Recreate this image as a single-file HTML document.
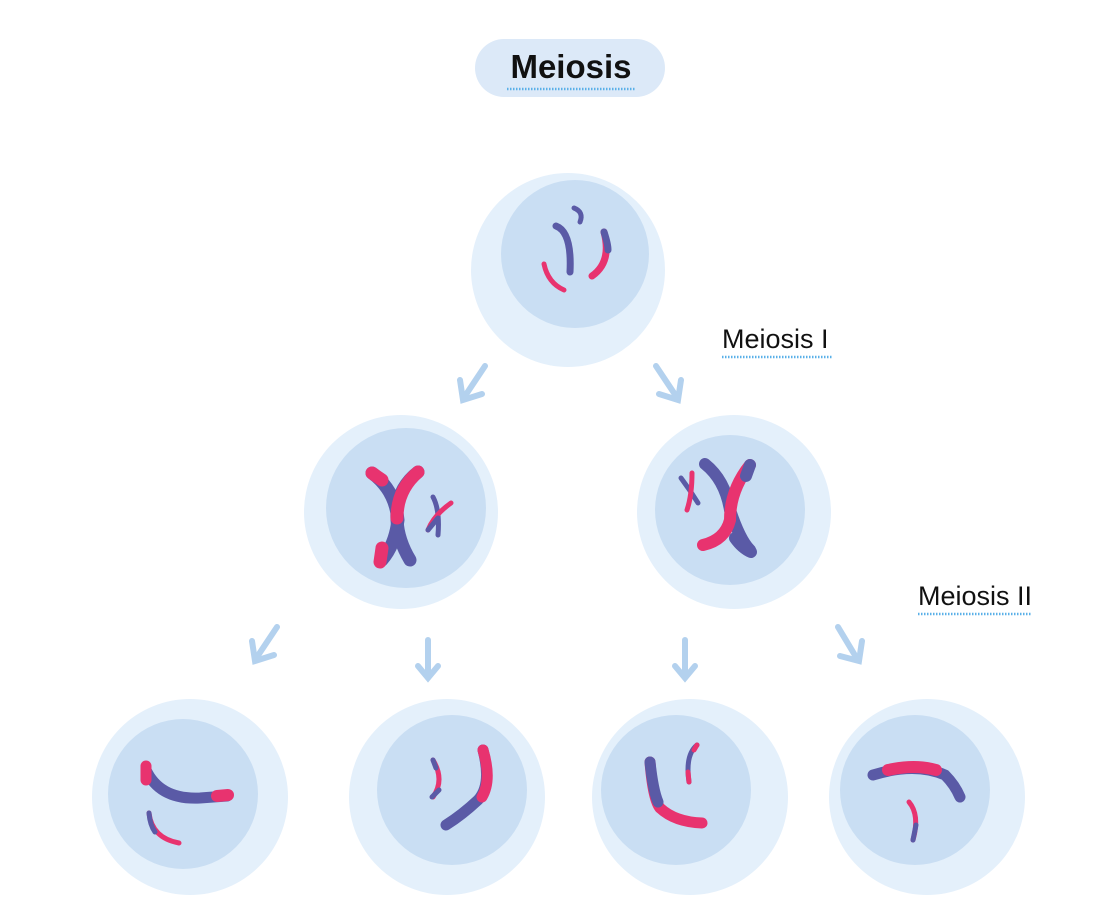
<!DOCTYPE html>
<html><head><style>
html,body{margin:0;padding:0;background:#fff;}
svg{display:block;}
text{font-family:"Liberation Sans",sans-serif;}
</style></head><body>
<svg width="1112" height="915" viewBox="0 0 1112 915">
<g fill="none" stroke-linecap="round">
<!-- title -->
<rect x="475" y="39" width="190" height="58" rx="29" fill="#dce9f8"/>
<text x="571" y="78" font-size="33" font-weight="bold" text-anchor="middle" fill="#111">Meiosis</text>
<line x1="507" y1="89" x2="636" y2="89" stroke="#5ab0e8" stroke-width="2.5" stroke-dasharray="1.5 1.5" stroke-linecap="butt"/>
<text x="722" y="348" font-size="27" fill="#111">Meiosis I</text>
<line x1="722" y1="357" x2="833" y2="357" stroke="#5ab0e8" stroke-width="2.5" stroke-dasharray="1.5 1.5" stroke-linecap="butt"/>
<text x="918" y="605" font-size="27" fill="#111">Meiosis II</text>
<line x1="918" y1="614" x2="1032" y2="614" stroke="#5ab0e8" stroke-width="2.5" stroke-dasharray="1.5 1.5" stroke-linecap="butt"/>

<!-- cells -->
<g stroke="none">
<circle cx="568" cy="270" r="97" fill="#e4f0fb"/><circle cx="575" cy="254" r="74" fill="#c9def3"/>
<circle cx="401" cy="512" r="97" fill="#e4f0fb"/><circle cx="406" cy="508" r="80" fill="#c9def3"/>
<circle cx="734" cy="512" r="97" fill="#e4f0fb"/><circle cx="730" cy="510" r="75" fill="#c9def3"/>
<circle cx="190" cy="797" r="98" fill="#e4f0fb"/><circle cx="183" cy="794" r="75" fill="#c9def3"/>
<circle cx="447" cy="797" r="98" fill="#e4f0fb"/><circle cx="452" cy="790" r="75" fill="#c9def3"/>
<circle cx="690" cy="797" r="98" fill="#e4f0fb"/><circle cx="676" cy="790" r="75" fill="#c9def3"/>
<circle cx="927" cy="797" r="98" fill="#e4f0fb"/><circle cx="915" cy="790" r="75" fill="#c9def3"/>
</g>

<!-- arrows -->
<g stroke="#b3d1ee" stroke-width="6">
<line x1="485" y1="366" x2="465" y2="396"/><polyline points="460,380 463,400 482,394"/>
<line x1="656" y1="366" x2="676" y2="396"/><polyline points="681,380 678,400 659,394"/>
<line x1="277" y1="627" x2="257" y2="657"/><polyline points="252,641 255,661 274,655"/>
<line x1="428" y1="640" x2="428" y2="676"/><polyline points="418,666 428,678 438,666"/>
<line x1="685" y1="640" x2="685" y2="676"/><polyline points="675,666 685,678 695,666"/>
<line x1="838" y1="627" x2="856" y2="657"/><polyline points="840,656 859,661 862,641"/>
</g>

<!-- top cell chromosomes -->
<path d="M556 226 Q572 232 570 272" stroke="#5a5aa6" stroke-width="7"/>
<path d="M574 208 Q584 212 580 222" stroke="#5a5aa6" stroke-width="5"/>
<path d="M544 264 Q548 283 564 290" stroke="#e8336f" stroke-width="5"/>
<path d="M604 232 Q612 262 592 276" stroke="#e8336f" stroke-width="7"/>
<path d="M604 232 Q608 244 608 250" stroke="#5a5aa6" stroke-width="7"/>

<!-- mid-left -->
<path d="M372 473 Q395 490 398 520 Q395 545 382 560" stroke="#5a5aa6" stroke-width="13"/>
<path d="M372 473 L382 480" stroke="#e8336f" stroke-width="13"/>
<path d="M382 548 L380 562" stroke="#e8336f" stroke-width="13"/>
<path d="M418 472 Q395 490 397 520 Q398 540 410 560" stroke="#5a5aa6" stroke-width="13"/>
<path d="M418 472 Q397 490 397 518" stroke="#e8336f" stroke-width="13"/>
<path d="M433 497 Q440 510 438 535" stroke="#5a5aa6" stroke-width="5"/>
<path d="M451 503 Q434 515 428 530" stroke="#e8336f" stroke-width="5"/>
<path d="M438 518 L428 530" stroke="#5a5aa6" stroke-width="5"/>

<!-- mid-right -->
<path d="M705 464 Q725 480 730 510 Q740 540 750 550" stroke="#5a5aa6" stroke-width="12"/>
<path d="M750 465 Q730 490 730 520 Q725 540 703 545" stroke="#e8336f" stroke-width="12"/>
<path d="M750 465 L746 476" stroke="#5a5aa6" stroke-width="12"/>
<path d="M735 538 Q742 548 751 552" stroke="#5a5aa6" stroke-width="12"/>
<path d="M681 478 Q690 490 698 503" stroke="#5a5aa6" stroke-width="5"/>
<path d="M692 473 Q692 495 687 510" stroke="#e8336f" stroke-width="5"/>

<!-- bottom 1 -->
<path d="M146 770 Q160 800 200 798 L227 796" stroke="#5a5aa6" stroke-width="11"/>
<path d="M146 766 L146 780" stroke="#e8336f" stroke-width="11"/>
<path d="M217 796 L228 795" stroke="#e8336f" stroke-width="12"/>
<path d="M149 813 Q152 838 179 843" stroke="#e8336f" stroke-width="5"/>
<path d="M149 813 Q150 825 155 832" stroke="#5a5aa6" stroke-width="5"/>

<!-- bottom 2 -->
<path d="M483 750 Q492 785 478 800 Q462 815 446 825" stroke="#5a5aa6" stroke-width="11"/>
<path d="M483 750 Q492 780 482 797" stroke="#e8336f" stroke-width="11"/>
<path d="M433 760 Q445 780 433 797" stroke="#e8336f" stroke-width="5"/>
<path d="M433 760 L436 768" stroke="#5a5aa6" stroke-width="5"/>
<path d="M439 790 L432 797" stroke="#5a5aa6" stroke-width="5"/>

<!-- bottom 3 -->
<path d="M650 762 Q653 800 660 808 Q675 822 702 823" stroke="#e8336f" stroke-width="11"/>
<path d="M650 762 Q653 790 658 802" stroke="#5a5aa6" stroke-width="11"/>
<path d="M697 745 Q685 755 689 782" stroke="#5a5aa6" stroke-width="5"/>
<path d="M697 745 L694 750" stroke="#e8336f" stroke-width="5"/>
<path d="M688 772 L689 782" stroke="#e8336f" stroke-width="5"/>

<!-- bottom 4 -->
<path d="M873 775 Q915 762 945 775 Q955 785 960 797" stroke="#5a5aa6" stroke-width="11"/>
<path d="M888 770 Q915 764 936 770" stroke="#e8336f" stroke-width="12"/>
<path d="M909 802 Q920 815 913 840" stroke="#e8336f" stroke-width="5"/>
<path d="M916 825 L913 840" stroke="#5a5aa6" stroke-width="5"/>
</g>
</svg>
</body></html>
